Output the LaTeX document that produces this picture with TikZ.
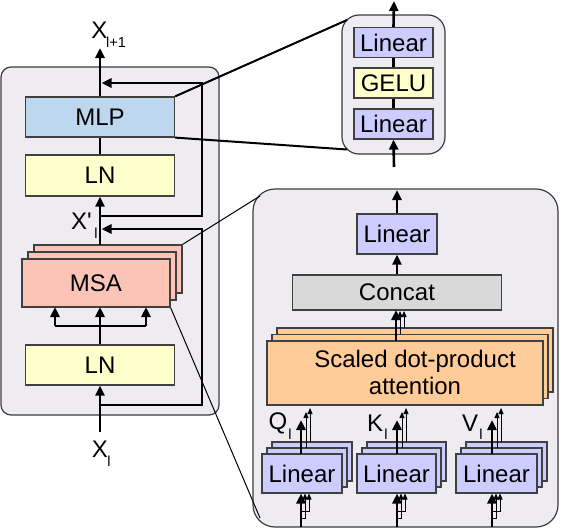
\documentclass[tikz,border=0pt]{standalone}
\usepackage{fontspec}
\setmainfont{Liberation Sans}
\usetikzlibrary{arrows.meta}
\definecolor{panelc}{RGB}{238,236,240}
\definecolor{panelb}{RGB}{60,60,60}
\definecolor{boxc}{RGB}{64,64,64}
\definecolor{mlpc}{RGB}{189,215,238}
\definecolor{lnc}{RGB}{255,255,204}
\definecolor{msac}{RGB}{251,196,183}
\definecolor{linc}{RGB}{204,204,255}
\definecolor{concatc}{RGB}{217,217,217}
\definecolor{sdpac}{RGB}{255,204,153}
\newcommand\bigfnt{\fontsize{24}{27}\selectfont}
\newcommand\subfnt{\fontsize{14.5}{16}\selectfont}
\tikzset{
 panel/.style={draw=panelb, fill=panelc, line width=1.2pt, rounded corners=#1, inner sep=0pt},
 blk/.style={draw=boxc, line width=1.2pt, inner sep=0pt, font=\bigfnt, text=black},
 thk/.style={line width=2.6pt, draw=black},
 arr/.style={thk, -{Triangle[length=10pt,width=9pt]}},
 tarr/.style={line width=1pt, -{Triangle[length=6pt,width=5pt]}},
 lbl/.style={font=\bigfnt, inner sep=0pt},
 sublbl/.style={font=\subfnt, inner sep=0pt},
}
\begin{document}
\begin{tikzpicture}[x=1pt,y=-1pt]
\useasboundingbox (0,0) rectangle (562,530);
% panels
\node[panel=10pt, minimum width=218pt, minimum height=348pt] (lp) at (110,241) {};
\node[panel=17pt, minimum width=103pt, minimum height=139pt] (tp) at (393.5,84.5) {};
\node[panel=22pt, minimum width=305pt, minimum height=338pt] (rp) at (405.5,358) {};

% ---------------- left block ----------------
\node[blk, fill=mlpc, minimum width=149pt, minimum height=40pt] (mlp) at (100,117) {MLP};
\node[blk, fill=lnc, minimum width=149pt, minimum height=41pt] (ln2) at (100,175.5) {LN};
\node[blk, fill=msac, minimum width=148pt, minimum height=48pt] (msa3) at (108,269) {};
\node[blk, fill=msac, minimum width=148pt, minimum height=48pt] (msa2) at (102,276) {};
\node[blk, fill=msac, minimum width=148pt, minimum height=48pt] (msa) at (96,283) {MSA};
\node[blk, fill=lnc, minimum width=149pt, minimum height=40pt] (ln1) at (100,365) {LN};

% connectors to detail panels
\draw[line width=2pt] (mlp.north east) -- (347,20);
\draw[line width=2pt] (mlp.south east) -- (347,149.5);
\draw[line width=1pt] (msa3.north east) -- (260,196);
\draw[line width=1pt] (msa.south east) -- (260,518);

% labels
\node[lbl] (xl) at (100,449.5) {X};
\node[sublbl] (xls) at (109,461.5) {l};
\node[lbl] (xo) at (99.5,30.5) {X};
\node[sublbl] (xos) at (116,42.5) {l+1};
\node[lbl] (xp) at (81.5,221.5) {X\textquotesingle};
\node[sublbl] (xps) at (96,233) {l};

% left flow
\coordinate (xin) at (100,432);
\coordinate (j1) at (100,405);
\coordinate (j2) at (100,216);
\draw[arr] (xin) -- (ln1.south);
\draw[thk] (ln1.north) -- (100,326) coordinate (br);
\draw[thk] (55,326) -- (146,326);
\draw[arr] (55,326) -- (55,307);
\draw[arr] (br) -- (100,307);
\draw[arr] (146,326) -- (146,307);
\draw[arr] (100,245) -- (ln2.south);
\draw[arr] (j1) -- (202,405) -- (202,229) -- (101.5,229);
\draw[arr] (j2) -- (202,216) -- (202,83) -- (101.5,83);
\draw[thk] (ln2.north) -- (mlp.south);
\draw[arr] (mlp.north) -- (100,48);

% ---------------- MLP detail ----------------
\node[blk, fill=linc, minimum width=79pt, minimum height=30pt] (linT) at (393.5,42.5) {Linear};
\node[blk, fill=lnc, minimum width=79pt, minimum height=30pt] (gelu) at (393.5,83) {GELU};
\node[blk, fill=linc, minimum width=79pt, minimum height=30pt] (linB) at (393.5,124) {Linear};
\coordinate (min) at (394,167);
\draw[arr] (min) -- (linB.south);
\draw[thk] (linB.north) -- (gelu.south);
\draw[thk] (gelu.north) -- (linT.south);
\draw[arr] (linT.north) -- (394,1);

% ---------------- MSA detail ----------------
\node[blk, fill=linc, minimum width=80pt, minimum height=40pt] (attlin) at (397,234) {Linear};
\node[blk, fill=concatc, minimum width=209pt, minimum height=35pt] (concat) at (397,292.5) {Concat};
\node[blk, fill=sdpac, minimum width=276pt, minimum height=64pt] (sdpa3) at (415,360) {};
\node[blk, fill=sdpac, minimum width=276pt, minimum height=64pt] (sdpa2) at (410,366.5) {};
\node[blk, fill=sdpac, minimum width=276pt, minimum height=64pt] (sdpa) at (405,373) {};
\node[lbl, align=center] (sdpatext) at (415,372) {Scaled dot-product\\attention};

\coordinate (attout) at (397,190);
\draw[arr] (attlin.north) -- (attout);
\draw[arr] (concat.north) -- (attlin.south);
\draw[arr] (396,341) -- (396,310);
\draw[tarr] (400,334) -- (400,311);
\draw[tarr] (404,328) -- (404,311);

% Q K V linear stacks
\foreach \nm/\cx/\w in {q/302/80, k/396.5/79, v/496.5/81}{
  \node[blk, fill=linc, minimum width=\w pt, minimum height=39pt] (\nm lin3) at (\cx+10,461.5) {};
  \node[blk, fill=linc, minimum width=\w pt, minimum height=39pt] (\nm lin2) at (\cx+5,467.5) {};
  \node[blk, fill=linc, minimum width=\w pt, minimum height=39pt] (\nm lin) at (\cx,473.5) {Linear};
}
\foreach \nm/\ax in {q/301, k/397, v/492}{
  \draw[arr] (\ax,454) -- (\ax,420);
  \draw[tarr] (\ax+5,448) -- (\ax+5,412);
  \draw[tarr] (\ax+9,442) -- (\ax+9,408);
  \coordinate (\nm in) at (\ax,527);
  \draw[arr] (\nm in) -- (\ax,493.5);
  \draw[tarr] (\ax,518) -| (\ax+4,493.5);
  \draw[tarr] (\ax,511) -| (\ax+8,493.5);
}
\node[lbl] (ql) at (278,423) {Q};
\node[sublbl] (qls) at (290,434) {l};
\node[lbl] (kl) at (375,423) {K};
\node[sublbl] (kls) at (386,434) {l};
\node[lbl] (vl) at (470,423) {V};
\node[sublbl] (vls) at (481,434) {l};
\end{tikzpicture}
\end{document}
